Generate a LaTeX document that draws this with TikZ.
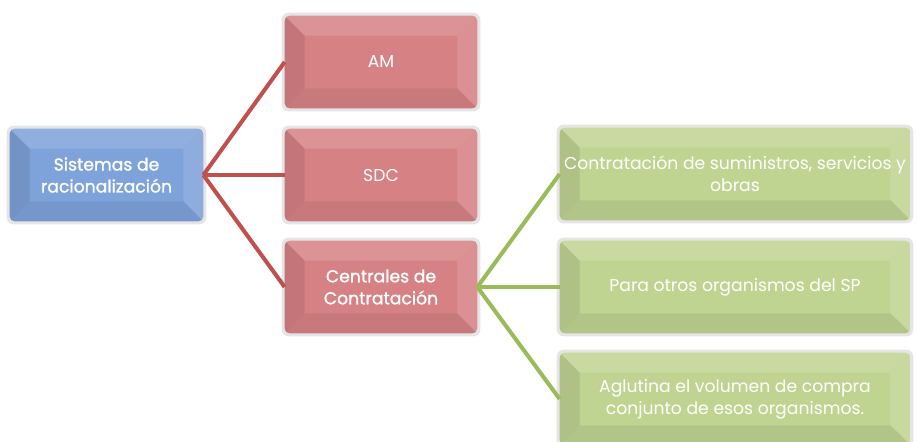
\documentclass[tikz,border=0pt]{standalone}
\usepackage{fontspec}
\setmainfont{Poppins}
\newfontfamily\medfont{Poppins}[FakeBold=1.2]
\definecolor{rootblue}{RGB}{126,162,218}
\definecolor{boxred}{RGB}{214,130,133}
\definecolor{boxgreen}{RGB}{192,212,146}
\definecolor{linered}{RGB}{192,80,77}
\definecolor{linegreen}{RGB}{155,187,89}
\usetikzlibrary{
	positioning,
	calc,
	backgrounds % bevel layer
}
\tikzset{
  % box
	cstbox/.style     ={minimum height=1.84cm,align=center,text=white,inner sep=2pt,font=\fontsize{9.8}{12.5}\selectfont},
	cstroot/.style    ={cstbox,minimum width=3.86cm,font=\fontsize{9.8}{12.5}\selectfont\medfont},
	cstred/.style     ={cstbox,minimum width=3.84cm},
	cstredb/.style    ={cstred,font=\fontsize{9.8}{12.5}\selectfont\medfont},
	cstgreen/.style   ={cstbox,minimum width=7cm},
  % link
	cstlinkr/.style   ={linered,line width=2.3pt},
	cstlinkg/.style   ={linegreen,line width=2.3pt}
}

\begin{document}
\begin{tikzpicture}
			\useasboundingbox (0,0) rectangle (18.34,-8.82);
			\node[cstroot] (root) at (2.13,-3.5) {Sistemas de\\racionalización};
			\node[cstred] (am) at (7.62,-1.24) {AM};
			\node[cstred] (sdc) at (7.62,-3.5) {SDC};
			\node[cstredb] (cc) at (7.62,-5.74) {Centrales de\\Contratación};
			\node[cstgreen] (g1) at (14.7,-3.48) {Contratación de suministros, servicios y\\obras};
			\node[cstgreen] (g2) at (14.7,-5.74) {Para otros organismos del SP};
			\node[cstgreen] (g3) at (14.7,-7.98) {Aglutina el volumen de compra\\conjunto de esos organismos.};
			\begin{scope}[on background layer]
				\foreach \n/\c in {root/rootblue,am/boxred,sdc/boxred,cc/boxred,g1/boxgreen,g2/boxgreen,g3/boxgreen}{
					\fill[black!10,rounded corners=4pt] ($(\n.south west)+(-.06,-.06)$) rectangle ($(\n.north east)+(.06,.06)$);
					\begin{scope}
						\clip[rounded corners=3pt] (\n.south west) rectangle (\n.north east);
						\fill[\c] (\n.south west) rectangle (\n.north east);
						\fill[\c!86!white] (\n.north west) -- (\n.north east) -- ($(\n.north east)+(-.4,-.4)$) -- ($(\n.north west)+(.4,-.4)$) -- cycle;
						\fill[\c!88!white] (\n.north east) -- (\n.south east) -- ($(\n.south east)+(-.4,.4)$) -- ($(\n.north east)+(-.4,-.4)$) -- cycle;
						\fill[\c!93!black] (\n.south east) -- (\n.south west) -- ($(\n.south west)+(.4,.4)$) -- ($(\n.south east)+(-.4,.4)$) -- cycle;
						\fill[\c!91!black] (\n.south west) -- (\n.north west) -- ($(\n.north west)+(.4,-.4)$) -- ($(\n.south west)+(.4,.4)$) -- cycle;
					\end{scope}
				}
			\end{scope}
			\foreach \t in {am,sdc,cc} \draw[cstlinkr] (root.east) -- (\t.west);
			\foreach \t in {g1,g2,g3} \draw[cstlinkg] (cc.east) -- (\t.west);
		\end{tikzpicture}
\end{document}
